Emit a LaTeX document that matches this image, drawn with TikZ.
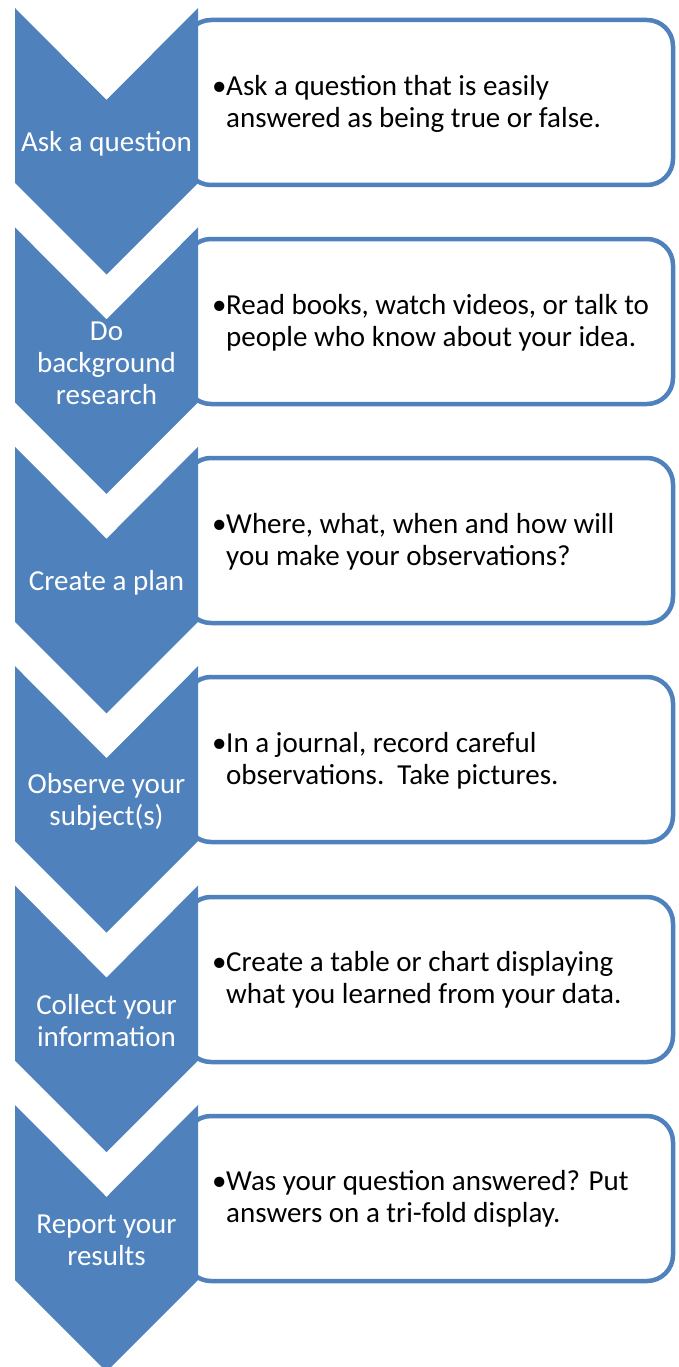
\documentclass[tikz,border=0pt]{standalone}
\usepackage{fontspec}
\setmainfont{Carlito}
\usetikzlibrary{calc}
\definecolor{stepblue}{RGB}{79,129,189}
% chevron with its top edge at height #1 (pixels, y down)
\def\chevron(#1){\fill[stepblue] (15, #1) -- (106.5, #1+92) -- (198, #1) -- (198, #1+175) -- (106.5, #1+266.5) -- (15, #1+175) -- cycle;}
\def\bullets#1#2{\begin{tabular}{@{}l@{}l@{}}\makebox[14pt][l]{\textbullet} & #1\\ & #2\end{tabular}}

\begin{document}
\begin{tikzpicture}[x=1pt, y=-1pt,
	chevtext/.style={text=white, align=center, inner sep=0pt, font=\fontsize{29}{32}\selectfont},
	infobox/.style={draw=stepblue, line width=4.5pt, fill=white, rounded corners=26pt},
	infotext/.style={anchor=west, inner sep=0pt, font=\fontsize{29}{31.5}\selectfont}]
			%%%%% START %%%%%
			\useasboundingbox (0, 0) rectangle (679, 1367);
			
			%%%%% ASK A QUESTION %%%%%
			\draw[infobox] (185, 20) rectangle (673, 185);
			\chevron(8)
			\node[chevtext] (askL) at (106.5, 144) {Ask a question};
			\node[infotext] (askR) at (212, 105) {\bullets{Ask a question that is easily}{answered as being true or false.}};
			
			%%%%% RESEARCH %%%%%
			\draw[infobox] (185, 239) rectangle (673, 404);
			\chevron(227.4)
			\node[chevtext] (researchL) at (106.5, 363) {Do\\background\\research};
			\node[infotext] (researchR) at (212, 324) {\bullets{Read books, watch videos, or talk to}{people who know about your idea.}};
			
			%%%%% PLAN %%%%%
			\draw[infobox] (185, 458) rectangle (673, 623);
			\chevron(446.8)
			\node[chevtext] (planL) at (106.5, 583) {Create a plan};
			\node[infotext] (planR) at (212, 543) {\bullets{Where, what, when and how will}{you make your observations?}};
			
			%%%%% OBSERVE %%%%%
			\draw[infobox] (185, 677) rectangle (673, 842);
			\chevron(666.2)
			\node[chevtext] (observeL) at (106.5, 802) {Observe your\\subject(s)};
			\node[infotext] (observeR) at (212, 762) {\bullets{In a journal, record careful}{observations.\ \ Take pictures.}};
			
			%%%%% COLLECT %%%%%
			\draw[infobox] (185, 897) rectangle (673, 1062);
			\chevron(885.6)
			\node[chevtext] (collectL) at (106.5, 1021) {Collect your\\information};
			\node[infotext] (collectR) at (212, 981) {\bullets{Create a table or chart displaying}{what you learned from your data.}};
			
			%%%%% REPORT %%%%%
			\draw[infobox] (185, 1116) rectangle (673, 1281);
			\chevron(1105)
			\node[chevtext] (reportL) at (106.5, 1240) {Report your\\results};
			\node[infotext] (reportR) at (212, 1200) {\bullets{Was your question answered? Put}{answers on a tri-fold display.}};
			
			%%%%% END %%%%%
\end{tikzpicture}
\end{document}
